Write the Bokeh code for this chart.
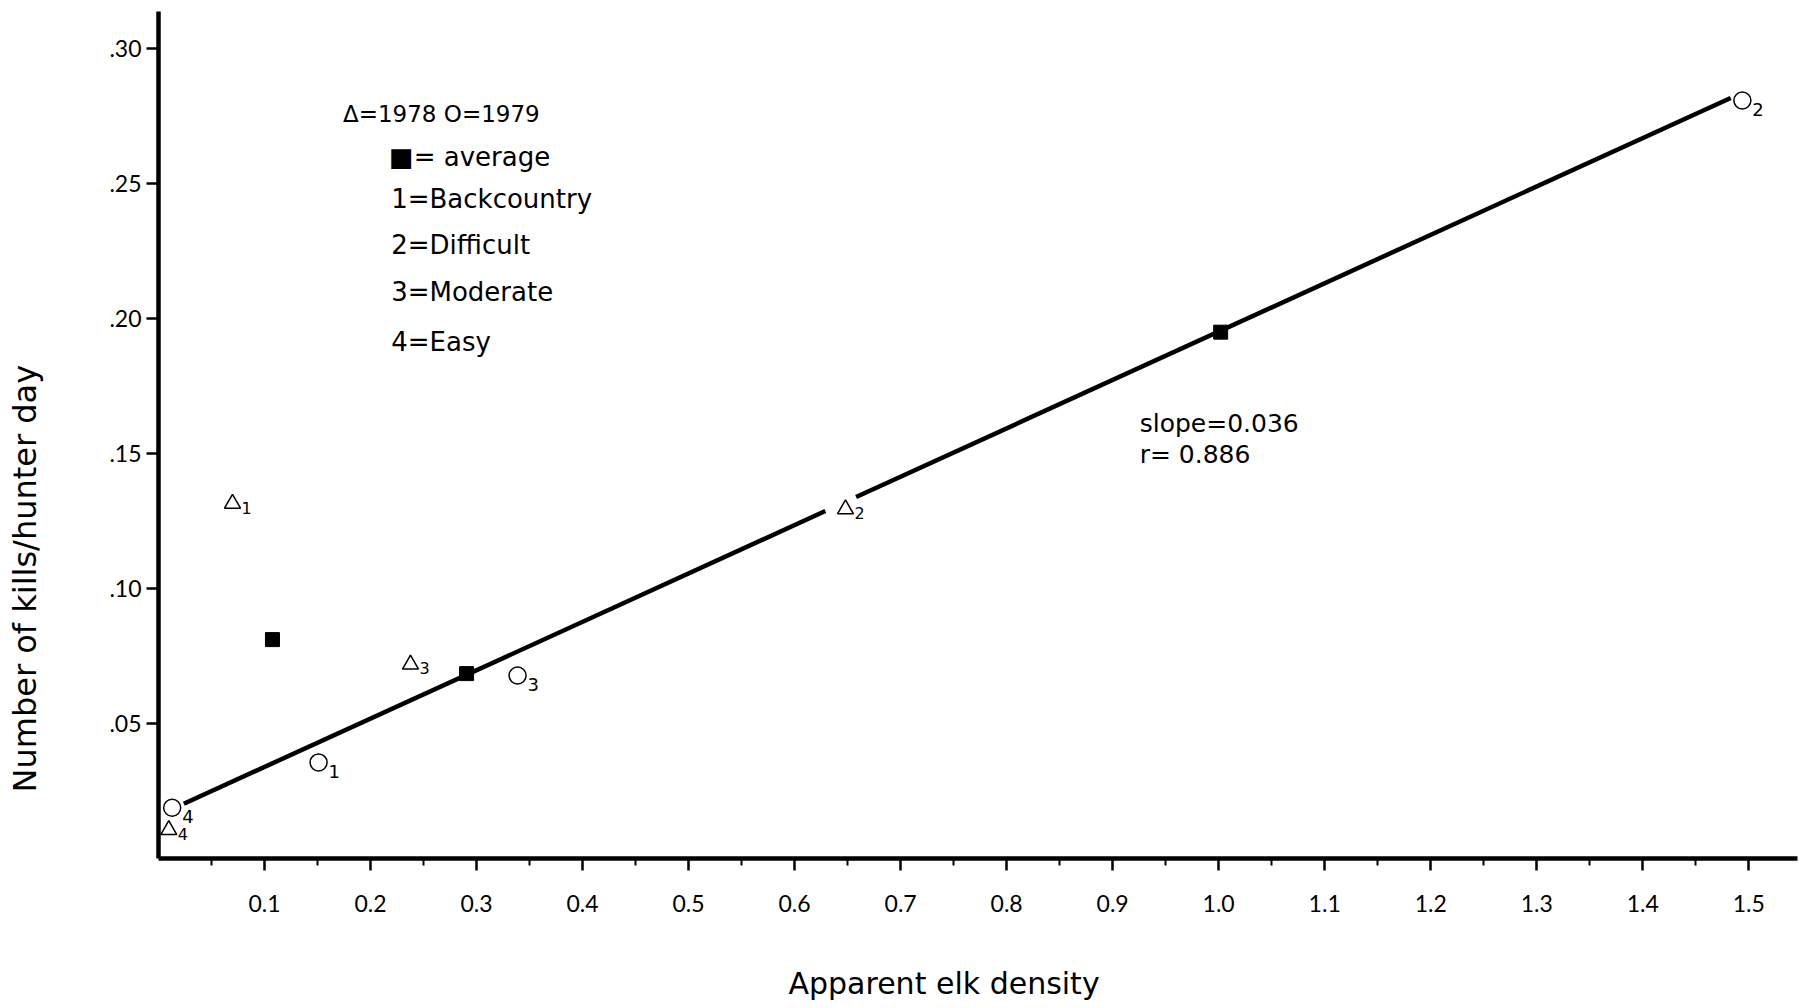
import math
from bokeh.plotting import figure
from bokeh.models import (Range1d, FixedTicker, CustomJSTickFormatter, Label, ColumnDataSource,
                          LinearAxis, Title)
from bokeh.embed import file_html
from bokeh.resources import INLINE
from bokeh.core.properties import value

FONT = "DejaVu Sans"
TICK_FONT = "Lato"

# ---- data ----
# 1978 values (triangles), labelled by hunting-unit class
y1978_x = [0.0698, 0.648, 0.2377, 0.0097]
y1978_y = [0.1315, 0.1294, 0.0719, 0.0106]
y1978_cls = ["1", "2", "3", "4"]

# 1979 values (circles)
y1979_x = [0.151, 1.494, 0.3387, 0.0129]
y1979_y = [0.0356, 0.2808, 0.0678, 0.0188]
y1979_cls = ["1", "2", "3", "4"]

# averages (filled squares)
avg_x = [0.1075, 0.2906, 1.0019]
avg_y = [0.0811, 0.0685, 0.1950]

# regression line y = a + b x, drawn in two pieces (gap around the class-2 triangle)
fit_a = 0.0160
fit_b = 0.1792
fit_seg_start = [0.0239, 0.658]
fit_seg_end = [0.629, 1.483]

x_ticks = [0.1, 0.2, 0.3, 0.4, 0.5, 0.6, 0.7, 0.8, 0.9, 1.0, 1.1, 1.2, 1.3, 1.4, 1.5]
x_tick_labels = ["0.1", "0.2", "0.3", "0.4", "0.5", "0.6", "0.7", "0.8", "0.9", "1.0",
                 "1.1", "1.2", "1.3", "1.4", "1.5"]
x_minor = [0.05, 0.15, 0.25, 0.35, 0.45, 0.55, 0.65, 0.75, 0.85, 0.95, 1.05, 1.15,
           1.25, 1.35, 1.45]
y_ticks = [0.05, 0.10, 0.15, 0.20, 0.25, 0.30]
y_tick_labels = [".05", ".10", ".15", ".20", ".25", ".30"]
y_minor = [0.025, 0.075, 0.125, 0.175, 0.225, 0.275]

legend_lines = ["\u0394=1978  O=1979", "\u25a0= average", "1=Backcountry", "2=Difficult",
                "3=Moderate", "4=Easy"]
stats_lines = ["slope=0.036", "r= 0.886"]

x_label = "Apparent elk density"
y_label = "Number of kills/hunter day"

# ---- figure ----
W, H = 1799, 1008
p = figure(width=W, height=H, output_backend="svg", toolbar_location=None,
           x_range=Range1d(0, 1.546), y_range=Range1d(0, 0.3138),
           title=None, tools="")
p.min_border_left = 158
p.min_border_right = 2
p.min_border_top = 11
p.min_border_bottom = 150
p.outline_line_color = None
p.background_fill_color = "white"
p.border_fill_color = "white"
p.xgrid.visible = False
p.ygrid.visible = False

fmt_code = """
const i = tv.findIndex(t => Math.abs(t - tick) < 1e-9);
return i >= 0 ? tl[i] : '';
"""

xa = p.xaxis[0]
xa.ticker = FixedTicker(ticks=x_ticks, minor_ticks=x_minor)
xa.formatter = CustomJSTickFormatter(args=dict(tv=x_ticks, tl=x_tick_labels), code=fmt_code)
ya = p.yaxis[0]
ya.ticker = FixedTicker(ticks=y_ticks, minor_ticks=y_minor)
ya.formatter = CustomJSTickFormatter(args=dict(tv=y_ticks, tl=y_tick_labels), code=fmt_code)

for ax in (xa, ya):
    ax.axis_line_width = 4.5
    ax.axis_line_color = "black"
    ax.major_tick_line_width = 2.5
    ax.minor_tick_line_width = 2
    ax.major_tick_line_color = "black"
    ax.minor_tick_line_color = "black"
    ax.major_tick_in = 0
    ax.minor_tick_in = 0
    ax.major_label_text_font = TICK_FONT
    ax.major_label_text_font_size = "23px"
    ax.major_label_text_color = "black"
    ax.major_label_text_font_style = "normal"

xa.major_tick_out = 12
xa.minor_tick_out = 7
xa.major_label_standoff = 24
ya.major_tick_out = 12
ya.minor_tick_out = 0
ya.major_label_standoff = 5


def spacer_axis(gap, at):
    """Invisible axis (one hidden tick, no label) used only as empty space
    between the tick labels and the axis title."""
    ax = LinearAxis(ticker=FixedTicker(ticks=[at]),
                    formatter=CustomJSTickFormatter(code="return '';"))
    ax.axis_line_color = None
    ax.major_tick_line_color = None
    ax.minor_tick_line_color = None
    ax.major_tick_out = gap
    ax.minor_tick_out = 0
    ax.major_tick_in = 0
    ax.minor_tick_in = 0
    ax.major_label_standoff = 0
    ax.major_label_text_font_size = "0px"
    return ax


p.add_layout(spacer_axis(49, 0.7), "below")
p.add_layout(spacer_axis(63, 0.15), "left")

# axis titles: side titles, offset along the axis like the original
p.add_layout(Title(text=x_label, align="left", offset=630, standoff=0,
                   text_font=FONT, text_font_size="30px", text_font_style="normal",
                   text_color="black"), "below")
p.add_layout(Title(text=y_label, align="left", offset=66, standoff=0,
                   text_font=FONT, text_font_size="32px", text_font_style="normal",
                   text_color="black"), "left")

# regression line
for xs, xe in zip(fit_seg_start, fit_seg_end):
    p.line([xs, xe], [fit_a + fit_b * xs, fit_a + fit_b * xe], line_color="black", line_width=4.5)

# markers
s78 = ColumnDataSource(dict(x=y1978_x, y=y1978_y, t=y1978_cls))
s79 = ColumnDataSource(dict(x=y1979_x, y=y1979_y, t=y1979_cls))
p.scatter("x", "y", source=s78, marker="triangle", size=16, fill_color="white",
          line_color="black", line_width=1.5)
p.scatter("x", "y", source=s79, marker="circle", size=17, fill_color="white",
          line_color="black", line_width=1.5)
p.scatter(avg_x, avg_y, marker="square", size=14, fill_color="black", line_color="black")

p.text("x", "y", text="t", source=s78, x_offset=9, y_offset=4, text_font=value(FONT),
       text_font_size="16px", text_baseline="middle", text_align="left", text_color="black")
p.text("x", "y", text="t", source=s79, x_offset=10, y_offset=9, text_font=value(FONT),
       text_font_size="18px", text_baseline="middle", text_align="left", text_color="black")

# legend block (annotation text)
leg_x = [0.174, 0.2175, 0.2195, 0.2195, 0.2195, 0.2195]
leg_y = [0.2760, 0.2598, 0.2444, 0.2273, 0.2098, 0.1912]
leg_size = ["23px", "26px", "26px", "26px", "26px", "26px"]
for t, lx, ly, fs in zip(legend_lines, leg_x, leg_y, leg_size):
    p.add_layout(Label(x=lx, y=ly, text=t, text_font=FONT, text_font_size=fs,
                       text_baseline="middle", text_align="left", text_color="black"))

for t, ly in zip(stats_lines, [0.1612, 0.1497]):
    p.add_layout(Label(x=0.9255, y=ly, text=t, text_font=FONT, text_font_size="25px",
                       text_baseline="middle", text_align="left", text_color="black"))

open("out.html", "w").write(file_html(p, INLINE))
